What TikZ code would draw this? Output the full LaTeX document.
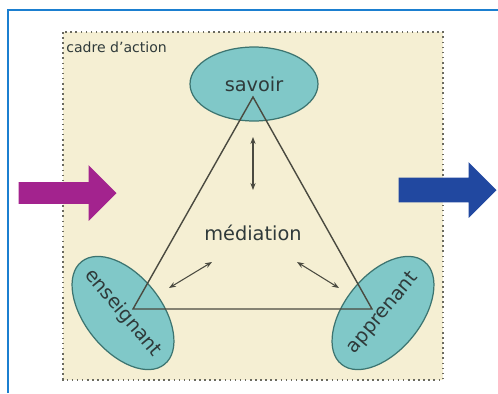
\documentclass[tikz,border=0pt]{standalone}
\usepackage{fontspec}
\setsansfont{DejaVu Sans}
\usetikzlibrary{shapes.geometric, shapes.arrows, arrows.meta, positioning}

\definecolor{framecol}{HTML}{1B7FD0}
\definecolor{cadrefill}{HTML}{F5EFD3}
\definecolor{cadreline}{HTML}{6A6A60}
\definecolor{polefill}{HTML}{80C8C8}
\definecolor{poleline}{HTML}{3C7470}
\definecolor{textgray}{HTML}{2F3A3A}
\definecolor{trigray}{HTML}{4A4A40}
\definecolor{inmag}{HTML}{A3238E}
\definecolor{outblue}{HTML}{2148A0}

\newcommand{\polefont}{\sffamily\fontsize{11}{13}\selectfont}

\begin{document}
\begin{tikzpicture}[
    x=0.02cm, y=-0.02cm,
    pole/.style={ellipse, draw=poleline, fill=polefill, line width=0.7pt, minimum width=2.56cm, minimum height=1.48cm, inner sep=0pt},
    poletxt/.style={font=\polefont, text=textgray, inner sep=0pt},
    dbl/.style={{Stealth[length=1.4mm]}-{Stealth[length=1.4mm]}, line width=0.6pt, draw=trigray},
    big/.style={single arrow, draw=none, inner xsep=0pt, minimum height=1.96cm, anchor=tip},
]
\useasboundingbox (0,0) rectangle (498,393);

% cadre
\draw[framecol, line width=1.6pt] (8,393) -- (8,10) -- (498,10);
\draw[cadreline, fill=cadrefill, line width=0.9pt, dotted] (63,32) rectangle (443,380);
\node[anchor=west, font=\sffamily\footnotesize, text=textgray, inner sep=0pt] (cadre) at (66,47) {cadre d'action};

% poles
\node[pole] (savoir) at (254,84) {};
\node[pole, minimum width=2.64cm, minimum height=1.52cm, rotate=-51] (ens) at (123,313) {};
\node[pole, minimum width=2.64cm, minimum height=1.52cm, rotate=51] (app) at (383,313) {};
\node[poletxt] (savoirtxt) at (savoir) {savoir};
\node[poletxt, rotate=-50] (enstxt) at (ens) {enseignant};
\node[poletxt, rotate=50] (apptxt) at (app) {apprenant};

% triangle
\coordinate (s) at (253,97);
\coordinate (e) at (133,309);
\coordinate (a) at (372,309);
\draw[trigray, line width=0.8pt] (s) -- (e) -- (a) -- cycle;

\node[poletxt] (med) at (253,233) {médiation};

\coordinate (m1) at (253,137);
\coordinate (m2) at (253,190);
\coordinate (l1) at (212,262);
\coordinate (l2) at (169,288);
\coordinate (r1) at (297,262);
\coordinate (r2) at (339,288);
\draw[dbl] (m1) -- (m2);
\draw[dbl] (l1) -- (l2);
\draw[dbl] (r1) -- (r2);

% fleches entree / sortie
\node[big, fill=inmag, inner ysep=6pt, single arrow head extend=9.6pt] (entree) at (117,193) {};
\node[big, fill=outblue, inner ysep=6.8pt, single arrow head extend=8.8pt] (sortie) at (497,190) {};
\end{tikzpicture}
\end{document}
